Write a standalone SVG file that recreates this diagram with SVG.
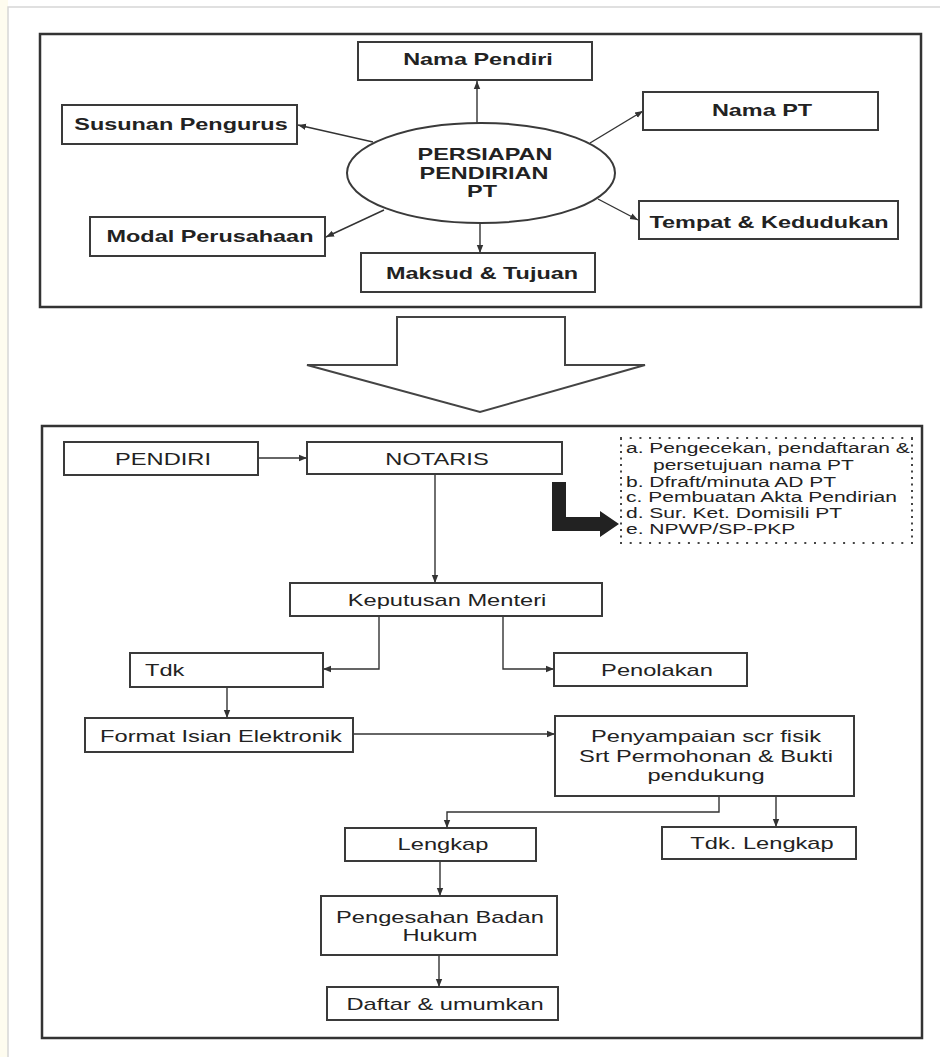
<svg xmlns="http://www.w3.org/2000/svg" width="940" height="1057" viewBox="0 0 940 1057">
<defs>
<style>
.box{fill:#fff;stroke:#3a3a3a;stroke-width:2}
.frame{fill:none;stroke:#333;stroke-width:2.5}
.b{font-family:"Liberation Sans",Arial,sans-serif;font-weight:bold;font-size:16.5px;fill:#222;text-anchor:middle}
.r{font-family:"Liberation Sans",Arial,sans-serif;font-size:16px;fill:#222;text-anchor:middle}
.rs{font-family:"Liberation Sans",Arial,sans-serif;font-size:16px;fill:#222;text-anchor:start}
.n{font-family:"Liberation Sans",Arial,sans-serif;font-size:14.5px;fill:#222;text-anchor:start}
.c{fill:none;stroke:#333;stroke-width:1.4;marker-end:url(#ah)}
.dot{stroke:#444;stroke-width:2;fill:none}
</style>
<marker id="ah" viewBox="0 0 10 10" refX="10" refY="5" markerWidth="8" markerHeight="8" markerUnits="userSpaceOnUse" orient="auto">
<path d="M0,1 L10,5 L0,9 z" fill="#333"/>
</marker>
</defs>
<rect x="0" y="0" width="940" height="1057" fill="#fff"/>
<rect x="0" y="0" width="8" height="1057" fill="#fefcef"/>
<g id="outer-border" fill="none" stroke="#d6d6d6" stroke-width="1.5">
<path d="M8,1057 V7 H940"/>
</g>

<g id="top-frame"><rect class="frame" x="40" y="34" width="881" height="273"/></g>

<g id="connectors">
<line class="c" x1="477" y1="123" x2="477" y2="81"/>
<line class="c" x1="373" y1="142" x2="298" y2="125"/>
<line class="c" x1="590" y1="143" x2="643" y2="111"/>
<line class="c" x1="598" y1="199" x2="638" y2="220"/>
<line class="c" x1="384" y1="210" x2="326" y2="237"/>
<line class="c" x1="480" y1="223" x2="480" y2="253"/>

<line class="c" x1="258" y1="458" x2="307" y2="458"/>
<line class="c" x1="435" y1="474" x2="435" y2="583"/>
<path class="c" d="M379,616 V669 H323"/>
<path class="c" d="M503,616 V669 H554"/>
<line class="c" x1="227" y1="687" x2="227" y2="718"/>
<line class="c" x1="353" y1="734" x2="555" y2="734"/>
<path class="c" d="M719,796 V812 H447 V828"/>
<line class="c" x1="776" y1="796" x2="776" y2="827"/>
<line class="c" x1="440" y1="861" x2="440" y2="896"/>
<line class="c" x1="439" y1="955" x2="439" y2="987"/>
</g>

<g id="persiapan">
<ellipse class="box" cx="481" cy="173" rx="134" ry="50"/>
<text class="b" transform="translate(485 160) scale(1.42 1)">PERSIAPAN</text>
<text class="b" transform="translate(484 178.5) scale(1.42 1)">PENDIRIAN</text>
<text class="b" transform="translate(482 197) scale(1.42 1)">PT</text>
</g>
<g id="nama-pendiri"><rect class="box" x="358" y="42" width="234" height="38"/>
<text class="b" transform="translate(478 65) scale(1.42 1)">Nama Pendiri</text></g>
<g id="susunan-pengurus"><rect class="box" x="62" y="105" width="235" height="39"/>
<text class="b" transform="translate(181 130) scale(1.42 1)">Susunan Pengurus</text></g>
<g id="nama-pt"><rect class="box" x="643" y="92" width="235" height="38"/>
<text class="b" transform="translate(762 116) scale(1.42 1)">Nama PT</text></g>
<g id="tempat-kedudukan"><rect class="box" x="639" y="201" width="259" height="38"/>
<text class="b" transform="translate(769 228) scale(1.42 1)">Tempat &amp; Kedudukan</text></g>
<g id="modal-perusahaan"><rect class="box" x="90" y="217" width="235" height="39"/>
<text class="b" transform="translate(210 242) scale(1.42 1)">Modal Perusahaan</text></g>
<g id="maksud-tujuan"><rect class="box" x="361" y="253" width="234" height="39"/>
<text class="b" transform="translate(482 279) scale(1.42 1)">Maksud &amp; Tujuan</text></g>

<g id="block-arrow">
<polygon points="397,317 565,317 565,365 645,365 480,412 307,365 397,365" fill="#fff" stroke="#444" stroke-width="2" stroke-linejoin="miter"/>
</g>

<g id="bottom-frame"><rect class="frame" x="42" y="426" width="880" height="612"/></g>

<g id="pendiri"><rect class="box" x="64" y="442" width="194" height="33"/>
<text class="r" transform="translate(163 465) scale(1.48 1)">PENDIRI</text></g>
<g id="notaris"><rect class="box" x="307" y="442" width="255" height="32"/>
<text class="r" transform="translate(437 465) scale(1.48 1)">NOTARIS</text></g>

<g id="l-arrow">
<path d="M552,482 H566 V517 H600 V511 L619,524 L600,537 V531 H552 Z" fill="#222"/>
</g>

<g id="notaris-tasks">
<rect x="620" y="438" width="293" height="105" fill="#fff"/>
<line class="dot" x1="620" y1="438" x2="913" y2="438" stroke-dasharray="2 7.7"/>
<line class="dot" x1="620" y1="543" x2="913" y2="543" stroke-dasharray="2 7.7"/>
<line class="dot" x1="621" y1="438" x2="621" y2="543" stroke-dasharray="2 4.5"/>
<line class="dot" x1="912" y1="438" x2="912" y2="543" stroke-dasharray="2 4.5"/>
<text class="n" transform="translate(626 453) scale(1.45 1)">a. Pengecekan, pendaftaran &amp;</text>
<text class="n" transform="translate(653 470) scale(1.45 1)">persetujuan nama PT</text>
<text class="n" transform="translate(626 486.5) scale(1.45 1)">b. Dfraft/minuta AD PT</text>
<text class="n" transform="translate(626 502) scale(1.45 1)">c. Pembuatan Akta Pendirian</text>
<text class="n" transform="translate(626 518) scale(1.45 1)">d. Sur. Ket. Domisili PT</text>
<text class="n" transform="translate(626 534) scale(1.45 1)">e. NPWP/SP-PKP</text>
</g>

<g id="keputusan-menteri"><rect class="box" x="290" y="583" width="312" height="33"/>
<text class="r" transform="translate(447 606) scale(1.48 1)">Keputusan Menteri</text></g>
<g id="tdk"><rect class="box" x="130" y="653" width="193" height="34"/>
<text class="rs" transform="translate(145 676) scale(1.48 1)">Tdk</text></g>
<g id="penolakan"><rect class="box" x="554" y="653" width="193" height="33"/>
<text class="r" transform="translate(657 676) scale(1.48 1)">Penolakan</text></g>
<g id="format-isian"><rect class="box" x="85" y="718" width="268" height="34"/>
<text class="r" transform="translate(221 741.5) scale(1.48 1)">Format Isian Elektronik</text></g>
<g id="penyampaian"><rect class="box" x="555" y="716" width="299" height="80"/>
<text class="r" transform="translate(706 742) scale(1.48 1)">Penyampaian scr fisik</text>
<text class="r" transform="translate(706 761.5) scale(1.48 1)">Srt Permohonan &amp; Bukti</text>
<text class="r" transform="translate(706 780.5) scale(1.48 1)">pendukung</text></g>
<g id="lengkap"><rect class="box" x="345" y="828" width="191" height="33"/>
<text class="r" transform="translate(443 849.5) scale(1.48 1)">Lengkap</text></g>
<g id="tdk-lengkap"><rect class="box" x="662" y="827" width="194" height="32"/>
<text class="r" transform="translate(762 849) scale(1.48 1)">Tdk. Lengkap</text></g>
<g id="pengesahan"><rect class="box" x="321" y="896" width="236" height="59"/>
<text class="r" transform="translate(440 922.5) scale(1.48 1)">Pengesahan Badan</text>
<text class="r" transform="translate(440 941) scale(1.48 1)">Hukum</text></g>
<g id="daftar"><rect class="box" x="327" y="987" width="231" height="33"/>
<text class="r" transform="translate(445 1009.5) scale(1.48 1)">Daftar &amp; umumkan</text></g>
</svg>
